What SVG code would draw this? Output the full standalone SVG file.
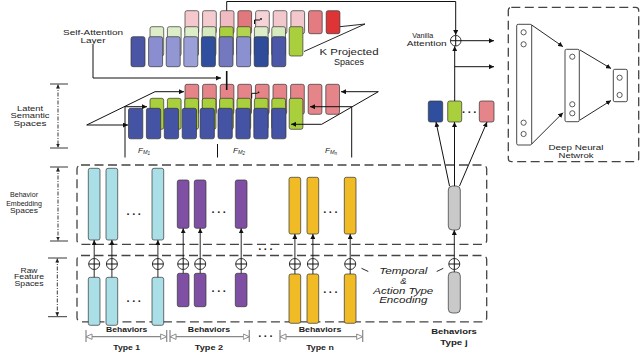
<svg xmlns="http://www.w3.org/2000/svg" width="640" height="353" viewBox="0 0 640 353">
<defs>
<style>
.t{font-family:"Liberation Sans",Arial,sans-serif;fill:#222}
.it{font-style:italic}
.b{font-weight:bold}
.bx{stroke:#333;stroke-width:0.7}
.ln{stroke:#111;stroke-width:1;fill:none}
.dash{fill:none;stroke:#444;stroke-width:1.3;stroke-dasharray:9 4.5}
.dd{stroke:#222;stroke-width:0.9;fill:none;stroke-dasharray:4 1.5 1 1.5}
.tk{stroke:#222;stroke-width:0.9}
.gr{stroke:#888;stroke-width:1.2;fill:none}
.pl{fill:#fff;stroke:#222;stroke-width:0.9}
.dots{font-family:"Liberation Sans",Arial,sans-serif;font-weight:bold;font-size:11px;fill:#222;letter-spacing:2px}
</style>
<marker id="ah" viewBox="0 0 6 6" refX="6" refY="3" markerWidth="5" markerHeight="5" markerUnits="userSpaceOnUse" orient="auto-start-reverse"><path d="M0,0 L6,3 L0,6 z" fill="#111"/></marker>
<marker id="sa" viewBox="0 0 6 6" refX="6" refY="3" markerWidth="4" markerHeight="4" markerUnits="userSpaceOnUse" orient="auto-start-reverse"><path d="M0,0 L6,3 L0,6 z" fill="#222"/></marker>
<marker id="oh" viewBox="0 0 8 8" refX="7.5" refY="4" markerWidth="7" markerHeight="7" markerUnits="userSpaceOnUse" orient="auto-start-reverse"><path d="M0.6,0.9 L7.5,4 L0.6,7.1 z" fill="#fff" stroke="#888" stroke-width="1.1"/></marker>
</defs>
<rect width="640" height="353" fill="#fff"/>

<!-- dashed regions -->
<g id="behavior-embedding-region">
<rect class="dash" x="77" y="165" width="409.7" height="79.3" rx="4"/>
</g>
<g id="raw-feature-region">
<rect class="dash" x="77" y="255.5" width="409.7" height="66.3" rx="4"/>
</g>

<!-- self attention stack -->
<g id="self-attention-layer">
<g class="bx">
<rect x="185" y="10.7" width="13.7" height="23" rx="2" fill="#f4c8cc"/>
<rect x="202.6" y="10.7" width="13.7" height="23" rx="2" fill="#f4ccd0"/>
<rect x="220.3" y="10.7" width="13.7" height="23" rx="2" fill="#f0bcc1"/>
<rect x="237.9" y="10.7" width="13.7" height="23" rx="2" fill="#e0787e"/>
<rect x="255.6" y="10.7" width="13.7" height="23" rx="2" fill="#f6d3d6"/>
<rect x="273.2" y="10.7" width="13.7" height="23" rx="2" fill="#f3c8cc"/>
<rect x="290.9" y="10.7" width="13.7" height="23" rx="2" fill="#f3c8cc"/>
<rect x="308.5" y="10.7" width="13.7" height="23" rx="2" fill="#e47b80"/>
<rect x="326.2" y="10.7" width="13.7" height="23" rx="2" fill="#de3436"/>
<rect x="150" y="26.7" width="13.7" height="29.3" rx="2" fill="#dcedc8"/>
<rect x="167.4" y="26.7" width="13.7" height="29.3" rx="2" fill="#dcedc8"/>
<rect x="184.8" y="26.7" width="13.7" height="29.3" rx="2" fill="#dcedc8"/>
<rect x="202.2" y="26.7" width="13.7" height="29.3" rx="2" fill="#d5e8be"/>
<rect x="219.6" y="26.7" width="13.7" height="29.3" rx="2" fill="#a9cf3c"/>
<rect x="237" y="26.7" width="13.7" height="29.3" rx="2" fill="#b3d44e"/>
<rect x="254.4" y="26.7" width="13.7" height="29.3" rx="2" fill="#dcedc8"/>
<rect x="271.8" y="26.7" width="13.7" height="29.3" rx="2" fill="#d6e9bf"/>
<rect x="289.2" y="26.7" width="13.7" height="29.3" rx="2" fill="#a9cf3c"/>
<rect x="131" y="36.7" width="14" height="30" rx="2" fill="#4b55a5"/>
<rect x="148.6" y="36.7" width="14" height="30" rx="2" fill="#8a8ed0"/>
<rect x="166.2" y="36.7" width="14" height="30" rx="2" fill="#9296d3"/>
<rect x="183.8" y="36.7" width="14" height="30" rx="2" fill="#9ca0d9"/>
<rect x="201.4" y="36.7" width="14" height="30" rx="2" fill="#2f4e9d"/>
<rect x="219" y="36.7" width="14" height="30" rx="2" fill="#7378bf"/>
<rect x="236.6" y="36.7" width="14" height="30" rx="2" fill="#8b90d0"/>
<rect x="254.2" y="36.7" width="14" height="30" rx="2" fill="#2f4c9b"/>
<rect x="271.8" y="36.7" width="14" height="30" rx="2" fill="#4d57a7"/>
</g>
<path class="ln" d="M254.5,24 V20 H260" stroke-width="0.8"/>
<circle cx="261" cy="19" r="0.9" fill="#111"/>
<text class="t" x="93" y="34.5" font-size="7.5" text-anchor="middle" textLength="60" lengthAdjust="spacingAndGlyphs">Self-Attention</text>
<text class="t" x="93" y="42.5" font-size="7.5" text-anchor="middle" textLength="25" lengthAdjust="spacingAndGlyphs">Layer</text>
<text class="t" x="349" y="54.5" font-size="8.5" text-anchor="middle" textLength="59" lengthAdjust="spacingAndGlyphs">K Projected</text>
<text class="t" x="349" y="64.5" font-size="8.5" text-anchor="middle" textLength="30" lengthAdjust="spacingAndGlyphs">Spaces</text>
</g>

<!-- latent semantic spaces stack -->
<g id="latent-semantic-spaces">
<g class="bx">
<rect x="185" y="84.3" width="13.7" height="30" rx="2" fill="#e5858a"/>
<rect x="202.6" y="84.3" width="13.7" height="30" rx="2" fill="#e5858a"/>
<rect x="220.2" y="84.3" width="13.7" height="30" rx="2" fill="#e5858a"/>
<rect x="237.8" y="84.3" width="13.7" height="30" rx="2" fill="#e5858a"/>
<rect x="255.4" y="84.3" width="13.7" height="30" rx="2" fill="#e5858a"/>
<rect x="273" y="84.3" width="13.7" height="30" rx="2" fill="#e5858a"/>
<rect x="290.6" y="84.3" width="13.7" height="30" rx="2" fill="#e5858a"/>
<rect x="308.2" y="84.3" width="13.7" height="30" rx="2" fill="#e5858a"/>
<rect x="325.8" y="84.3" width="13.7" height="30" rx="2" fill="#e5858a"/>
<rect x="150" y="98.3" width="13.7" height="31" rx="2" fill="#a9cf3c"/>
<rect x="167.4" y="98.3" width="13.7" height="31" rx="2" fill="#a9cf3c"/>
<rect x="184.8" y="98.3" width="13.7" height="31" rx="2" fill="#a9cf3c"/>
<rect x="202.2" y="98.3" width="13.7" height="31" rx="2" fill="#a9cf3c"/>
<rect x="219.6" y="98.3" width="13.7" height="31" rx="2" fill="#a9cf3c"/>
<rect x="237" y="98.3" width="13.7" height="31" rx="2" fill="#a9cf3c"/>
<rect x="254.4" y="98.3" width="13.7" height="31" rx="2" fill="#a9cf3c"/>
<rect x="271.8" y="98.3" width="13.7" height="31" rx="2" fill="#a9cf3c"/>
<rect x="289.2" y="98.3" width="13.7" height="31" rx="2" fill="#a9cf3c"/>
<rect x="128.5" y="108.3" width="14.3" height="30.5" rx="2" fill="#4453a3"/>
<rect x="146.4" y="108.3" width="14.3" height="30.5" rx="2" fill="#4453a3"/>
<rect x="164.3" y="108.3" width="14.3" height="30.5" rx="2" fill="#4453a3"/>
<rect x="182.2" y="108.3" width="14.3" height="30.5" rx="2" fill="#4453a3"/>
<rect x="200.1" y="108.3" width="14.3" height="30.5" rx="2" fill="#4453a3"/>
<rect x="218" y="108.3" width="14.3" height="30.5" rx="2" fill="#4453a3"/>
<rect x="235.9" y="108.3" width="14.3" height="30.5" rx="2" fill="#4453a3"/>
<rect x="253.8" y="108.3" width="14.3" height="30.5" rx="2" fill="#4453a3"/>
<rect x="271.7" y="108.3" width="14.3" height="30.5" rx="2" fill="#4453a3"/>
</g>
<path class="ln" d="M251.7,98.5 V93.3 H257.5" stroke-width="0.8"/>
<circle cx="258.5" cy="92.3" r="0.9" fill="#111"/>
<text class="t it" x="138" y="152.5" font-size="8">F<tspan font-size="5.5" dy="1.5">M</tspan><tspan font-size="4.5" dy="1">1</tspan></text>
<text class="t it" x="233" y="152.5" font-size="8">F<tspan font-size="5.5" dy="1.5">M</tspan><tspan font-size="4.5" dy="1">2</tspan></text>
<text class="t it" x="325" y="152.5" font-size="8">F<tspan font-size="5.5" dy="1.5">M</tspan><tspan font-size="4.5" dy="1">n</tspan></text>
</g>

<!-- side labels with dimension markers -->
<g id="label-latent">
<text class="t" x="30" y="110.5" font-size="7.5" text-anchor="middle" textLength="26" lengthAdjust="spacingAndGlyphs">Latent</text>
<text class="t" x="30" y="118.2" font-size="7.5" text-anchor="middle" textLength="39" lengthAdjust="spacingAndGlyphs">Semantic</text>
<text class="t" x="30" y="125.8" font-size="7.5" text-anchor="middle" textLength="33" lengthAdjust="spacingAndGlyphs">Spaces</text>
<line class="tk" x1="50" y1="84" x2="68" y2="84"/>
<line class="tk" x1="50" y1="148" x2="68" y2="148"/>
<line class="dd" x1="58" y1="84.5" x2="58" y2="147.5" marker-start="url(#sa)" marker-end="url(#sa)"/>
</g>
<g id="label-behavior-embedding">
<text class="t" x="24" y="197.3" font-size="7.5" text-anchor="middle" textLength="28" lengthAdjust="spacingAndGlyphs">Behavior</text>
<text class="t" x="24" y="205.5" font-size="7.5" text-anchor="middle" textLength="35.7" lengthAdjust="spacingAndGlyphs">Embedding</text>
<text class="t" x="24" y="213.3" font-size="7.5" text-anchor="middle" textLength="28" lengthAdjust="spacingAndGlyphs">Spaces</text>
<line class="tk" x1="50" y1="167" x2="68" y2="167"/>
<line class="tk" x1="50" y1="241" x2="68" y2="241"/>
<line class="dd" x1="58" y1="167.5" x2="58" y2="240.5" marker-start="url(#sa)" marker-end="url(#sa)"/>
</g>
<g id="label-raw-feature">
<text class="t" x="29" y="272.5" font-size="7" text-anchor="middle" textLength="17" lengthAdjust="spacingAndGlyphs">Raw</text>
<text class="t" x="29" y="279.3" font-size="7" text-anchor="middle" textLength="30" lengthAdjust="spacingAndGlyphs">Feature</text>
<text class="t" x="29" y="286" font-size="7" text-anchor="middle" textLength="29" lengthAdjust="spacingAndGlyphs">Spaces</text>
<line class="tk" x1="48" y1="258" x2="67" y2="258"/>
<line class="tk" x1="48" y1="316.7" x2="67" y2="316.7"/>
<line class="dd" x1="57.3" y1="258.5" x2="57.3" y2="316.2" marker-start="url(#sa)" marker-end="url(#sa)"/>
</g>

<!-- behavior embeddings -->
<g id="embeddings-type1" class="bx">
<rect x="88.3" y="168.3" width="11.7" height="71.7" rx="2" fill="#aadfe8"/>
<rect x="106" y="168.3" width="11.7" height="71.7" rx="2" fill="#aadfe8"/>
<rect x="152" y="168.3" width="11.7" height="71.7" rx="2" fill="#aadfe8"/>
</g>
<g id="embeddings-type2" class="bx">
<rect x="177.3" y="180" width="11.7" height="48.3" rx="2" fill="#7f4fa3"/>
<rect x="194.3" y="180" width="11.7" height="48.3" rx="2" fill="#7f4fa3"/>
<rect x="235.3" y="180" width="11.7" height="48.3" rx="2" fill="#7f4fa3"/>
</g>
<g id="embeddings-typen" class="bx">
<rect x="289" y="177.3" width="11.7" height="56.7" rx="2" fill="#f0bb25"/>
<rect x="307" y="177.3" width="11.7" height="56.7" rx="2" fill="#f0bb25"/>
<rect x="344.3" y="177.3" width="11.7" height="56.7" rx="2" fill="#f0bb25"/>
</g>
<text class="dots" x="135" y="218" text-anchor="middle">···</text>
<text class="dots" x="220" y="216" text-anchor="middle">···</text>
<text class="dots" x="331.7" y="215.7" text-anchor="middle">···</text>
<text class="dots" x="266.7" y="252.5" text-anchor="middle">···</text>

<!-- raw features -->
<g id="raw-type1" class="bx">
<rect x="88.3" y="277.3" width="11.7" height="48" rx="2" fill="#aadfe8"/>
<rect x="106" y="277.3" width="11.7" height="48" rx="2" fill="#aadfe8"/>
<rect x="152" y="277.3" width="11.7" height="48" rx="2" fill="#aadfe8"/>
</g>
<g id="raw-type2" class="bx">
<rect x="177.3" y="273.3" width="11.7" height="33.4" rx="2" fill="#7f4fa3"/>
<rect x="194.3" y="273.3" width="11.7" height="33.4" rx="2" fill="#7f4fa3"/>
<rect x="235.3" y="273.3" width="11.7" height="33.4" rx="2" fill="#7f4fa3"/>
</g>
<g id="raw-typen" class="bx">
<rect x="289" y="274" width="11.7" height="49.3" rx="2" fill="#f0bb25"/>
<rect x="307" y="274" width="11.7" height="49.3" rx="2" fill="#f0bb25"/>
<rect x="344.3" y="274" width="11.7" height="49.3" rx="2" fill="#f0bb25"/>
</g>
<text class="dots" x="135" y="304.7" text-anchor="middle">···</text>
<text class="dots" x="220" y="294.7" text-anchor="middle">···</text>
<text class="dots" x="331.7" y="296.3" text-anchor="middle">···</text>

<!-- encoding plus nodes -->
<g id="encoding-plus">
<g class="pl">
<circle cx="94.2" cy="264" r="5.5"/><circle cx="111.9" cy="264" r="5.5"/><circle cx="157.9" cy="264" r="5.5"/>
<circle cx="183.2" cy="264" r="5.5"/><circle cx="200.2" cy="264" r="5.5"/><circle cx="241.2" cy="264" r="5.5"/>
<circle cx="294.9" cy="264" r="5.5"/><circle cx="312.9" cy="264" r="5.5"/><circle cx="350.2" cy="264" r="5.5"/>
<circle cx="454.3" cy="264" r="5.5"/>
</g>
<path class="ln" stroke-width="0.8" d="M88.7,264 H99.7 M94.2,258.5 V269.5 M106.4,264 H117.4 M111.9,258.5 V269.5 M152.4,264 H163.4 M157.9,258.5 V269.5 M177.7,264 H188.7 M183.2,258.5 V269.5 M194.7,264 H205.7 M200.2,258.5 V269.5 M235.7,264 H246.7 M241.2,258.5 V269.5 M289.4,264 H300.4 M294.9,258.5 V269.5 M307.4,264 H318.4 M312.9,258.5 V269.5 M344.7,264 H355.7 M350.2,258.5 V269.5 M448.8,264 H459.8 M454.3,258.5 V269.5"/>
<text class="t it" x="403.3" y="274" font-size="9.5" text-anchor="middle" textLength="48.3" lengthAdjust="spacingAndGlyphs">Temporal</text>
<text class="t it" x="403.3" y="283.5" font-size="9.5" text-anchor="middle">&amp;</text>
<text class="t it" x="403.3" y="293.5" font-size="9.5" text-anchor="middle" textLength="60" lengthAdjust="spacingAndGlyphs">Action Type</text>
<text class="t it" x="403.3" y="303" font-size="9.5" text-anchor="middle" textLength="48.3" lengthAdjust="spacingAndGlyphs">Encoding</text>
</g>

<!-- behaviors type j -->
<g id="behavior-type-j">
<rect class="bx" x="448.3" y="186" width="12" height="44" rx="4" fill="#c9c9c9"/>
<rect class="bx" x="448.3" y="272" width="12" height="41" rx="4" fill="#c9c9c9"/>
<text class="t b" x="454" y="334.3" font-size="8" text-anchor="middle" textLength="45.7" lengthAdjust="spacingAndGlyphs">Behaviors</text>
<text class="t b" x="454" y="345" font-size="8" text-anchor="middle" textLength="27.3" lengthAdjust="spacingAndGlyphs">Type j</text>
</g>

<!-- vanilla attention -->
<g id="vanilla-attention">
<rect class="bx" x="428.3" y="101" width="14.4" height="21" rx="2" fill="#2f4f9e"/>
<rect class="bx" x="447.7" y="101" width="14" height="21" rx="2" fill="#a9cf3c"/>
<rect class="bx" x="479.3" y="101" width="14.7" height="21" rx="2" fill="#e5858a"/>
<text class="dots" x="470.5" y="116" text-anchor="middle" font-size="9" letter-spacing="1">···</text>
<circle class="pl" cx="455.7" cy="40.7" r="5.3" stroke-width="1.1"/>
<path class="ln" d="M450.4,40.7 H461 M455.7,35.4 V46" stroke-width="1"/>
<text class="t" x="422.8" y="37.5" font-size="8" text-anchor="middle" textLength="21" lengthAdjust="spacingAndGlyphs">Vanilla</text>
<text class="t" x="426.7" y="46" font-size="8" text-anchor="middle" textLength="40" lengthAdjust="spacingAndGlyphs">Attention</text>
</g>

<!-- deep neural network -->
<g id="deep-neural-network">
<rect class="dash" x="508.3" y="7.3" width="130.4" height="154.4" rx="3"/>
<rect x="516.7" y="24.3" width="15" height="120.7" rx="1.5" fill="#fff" stroke="#333" stroke-width="0.9"/>
<rect x="565" y="49.3" width="14.3" height="72.4" rx="1.5" fill="#fff" stroke="#333" stroke-width="0.9"/>
<rect x="613.3" y="69.3" width="14" height="32.4" rx="1.5" fill="#fff" stroke="#333" stroke-width="0.9"/>
<g fill="#fff" stroke="#333" stroke-width="0.8">
<circle cx="523.6" cy="32.3" r="2.6"/><circle cx="523.6" cy="44.3" r="2.6"/><circle cx="523.6" cy="122.7" r="2.6"/><circle cx="523.6" cy="134" r="2.6"/>
<circle cx="572.3" cy="56.7" r="2.6"/><circle cx="572.3" cy="104.3" r="2.6"/><circle cx="572.3" cy="113.3" r="2.6"/>
<circle cx="619.6" cy="77.7" r="2.6"/><circle cx="619.6" cy="95" r="2.6"/>
</g>
<text class="t" x="576" y="149.7" font-size="7.5" text-anchor="middle" textLength="55" lengthAdjust="spacingAndGlyphs">Deep Neural</text>
<text class="t" x="576" y="157.5" font-size="7.5" text-anchor="middle" textLength="35" lengthAdjust="spacingAndGlyphs">Netwrok</text>
</g>

<!-- bottom brackets -->
<g id="behavior-type-brackets">
<g class="gr">
<path d="M86,336.7 H166.7" marker-start="url(#oh)" marker-end="url(#oh)"/>
<path d="M170,336.7 H249.3" marker-start="url(#oh)" marker-end="url(#oh)"/>
<path d="M280,336.7 H362.7" marker-start="url(#oh)" marker-end="url(#oh)"/>
<path d="M86,330 V342 M166.7,330 V342 M170,330 V342 M249.3,330 V342 M280,330 V342 M362.7,330 V342"/>
</g>
<text class="dots" x="266.7" y="340" text-anchor="middle">···</text>
<text class="t b" x="126.7" y="331.5" font-size="7.5" text-anchor="middle" textLength="41.3" lengthAdjust="spacingAndGlyphs">Behaviors</text>
<text class="t b" x="209" y="331.5" font-size="7.5" text-anchor="middle" textLength="42.3" lengthAdjust="spacingAndGlyphs">Behaviors</text>
<text class="t b" x="320" y="331.5" font-size="7.5" text-anchor="middle" textLength="42.7" lengthAdjust="spacingAndGlyphs">Behaviors</text>
<text class="t b" x="126.7" y="350" font-size="7.5" text-anchor="middle" textLength="26.7" lengthAdjust="spacingAndGlyphs">Type 1</text>
<text class="t b" x="209" y="350" font-size="7.5" text-anchor="middle" textLength="28.3" lengthAdjust="spacingAndGlyphs">Type 2</text>
<text class="t b" x="320" y="350" font-size="7.5" text-anchor="middle" textLength="27.7" lengthAdjust="spacingAndGlyphs">Type n</text>
</g>

<!-- connectors -->
<g id="connectors" class="ln">
<path d="M226.7,10.7 V1.5 H455.7 V35" marker-end="url(#ah)"/>
<path d="M93,45 V78 H221" marker-end="url(#ah)"/>
<path d="M226.7,71 V90" stroke-width="1.6"/>
<path d="M86.7,125 L155,91.7 H184" marker-end="url(#ah)"/>
<path d="M86.7,125 H128" marker-end="url(#ah)"/>
<path d="M125,157.5 V106.7 H147" marker-end="url(#ah)"/>
<path d="M217.5,144 V157.5"/>
<path d="M351.7,157.5 V106.7 H310" marker-end="url(#ah)"/>
<path d="M341,91.7 H378.3 L321.7,124.3 H291" marker-start="url(#ah)" marker-end="url(#ah)"/>
<path d="M340,26.7 L365,24 L304,51.5" stroke-width="0.9"/>
<g stroke-width="0.9">
<path d="M94.2,277.3 V269.5 M111.9,277.3 V269.5 M157.9,277.3 V269.5 M183.2,273.3 V269.5 M200.2,273.3 V269.5 M241.2,273.3 V269.5 M294.9,274 V269.5 M312.9,274 V269.5 M350.2,274 V269.5 M454.3,272 V269.5"/>
<path d="M94.2,258.5 V240" marker-end="url(#ah)"/>
<path d="M111.9,258.5 V240" marker-end="url(#ah)"/>
<path d="M157.9,258.5 V240" marker-end="url(#ah)"/>
<path d="M183.2,258.5 V228.3" marker-end="url(#ah)"/>
<path d="M200.2,258.5 V228.3" marker-end="url(#ah)"/>
<path d="M241.2,258.5 V228.3" marker-end="url(#ah)"/>
<path d="M294.9,258.5 V234" marker-end="url(#ah)"/>
<path d="M312.9,258.5 V234" marker-end="url(#ah)"/>
<path d="M350.2,258.5 V234" marker-end="url(#ah)"/>
<path d="M454.3,258.5 V230" marker-end="url(#ah)"/>
<path d="M361.5,268.3 L368.3,271.5"/>
<path d="M436.7,271.5 L443.3,268.3"/>
</g>
<path d="M449.5,186 L436,122" marker-end="url(#ah)"/>
<path d="M454.5,186 V122" marker-end="url(#ah)"/>
<path d="M459.5,186 L487,122" marker-end="url(#ah)"/>
<path d="M454.7,101 V46.2" marker-end="url(#ah)"/>
<path d="M454.7,66.7 H494" marker-end="url(#ah)"/>
<path d="M461,40.7 H494" marker-end="url(#ah)"/>
<g stroke-width="0.9">
<path d="M531.7,25 L563,46.7" marker-end="url(#ah)"/>
<path d="M531.7,144 L563,112.7" marker-end="url(#ah)"/>
<path d="M580,50 L611,68.5" marker-end="url(#ah)"/>
<path d="M580,120 L611,100.5" marker-end="url(#ah)"/>
</g>
</g>
</svg>
